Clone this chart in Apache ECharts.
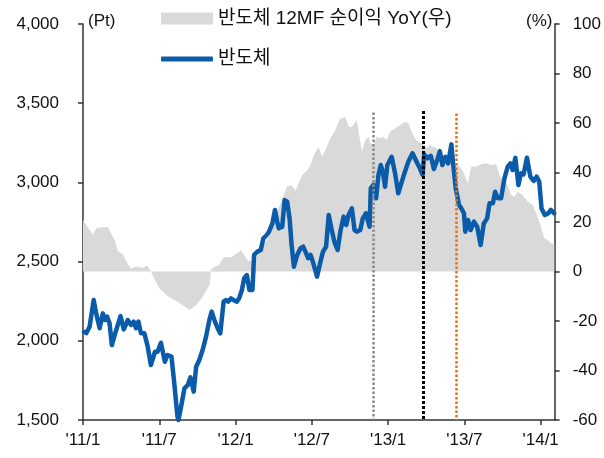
<!DOCTYPE html>
<html><head><meta charset="utf-8">
<script src="https://cdn.jsdelivr.net/npm/echarts@6/dist/echarts.min.js"></script>
<style>html,body{margin:0;padding:0;background:#fff}#c{width:604px;height:458px}</style>
</head><body><div id="c"></div>
<script>
// x positions are months elapsed since 2011/1
const xTickValues = [0, 6, 12, 18, 24, 30, 36];
const xTickLabels = ["'11/1", "'11/7", "'12/1", "'12/7", "'13/1", "'13/7", "'14/1"];

const semiName = '반도체';
const semiT = [0.08,0.26,0.52,0.84,1.04,1.31,1.56,1.74,1.90,2.09,
2.27,2.53,2.95,3.21,3.52,3.78,3.99,4.17,4.36,4.56,
4.83,5.09,5.34,5.66,5.87,6.13,6.44,6.65,6.96,7.18,
7.43,7.51,7.77,7.98,8.24,8.45,8.71,8.90,9.15,9.41,
9.68,9.94,10.12,10.38,10.59,10.80,11.06,11.24,11.42,11.64,
11.84,12.10,12.28,12.50,12.68,12.89,13.09,13.33,13.46,13.72,
13.98,14.19,14.45,14.63,14.90,15.10,15.28,15.41,15.67,15.86,
16.06,16.25,16.41,16.59,16.85,17.11,17.32,17.50,17.71,17.90,
18.08,18.41,18.68,18.88,19.12,19.33,19.54,19.77,20.03,20.24,
20.50,20.71,20.89,21.15,21.36,21.54,21.81,22.01,22.25,22.54,
22.64,22.85,23.06,23.24,23.42,23.58,23.76,23.94,24.28,24.55,
24.80,25.20,25.59,25.92,26.24,26.50,26.71,26.84,27.10,27.36,
27.60,27.86,28.07,28.27,28.51,28.72,28.98,29.11,29.32,29.58,
29.76,29.97,30.07,30.28,30.49,30.75,31.01,31.28,31.53,31.79,
31.98,32.24,32.42,32.63,32.89,33.15,33.41,33.62,33.80,34.01,
34.25,34.45,34.66,34.92,35.19,35.45,35.68,35.89,36.07,36.33,
36.60,36.80,37.07];
const semiIndex = [2057,2049,2089,2257,2173,2079,2173,2131,2152,2110,
1973,2047,2156,2072,2131,2100,2121,2079,2121,2047,
2047,1963,1847,1931,1931,1988,1868,1910,1900,1732,
1521,1500,1607,1700,1721,1769,1679,1836,1879,1942,
2026,2131,2184,2121,2079,2047,2247,2257,2247,2268,
2257,2247,2268,2321,2395,2415,2321,2321,2542,2563,
2573,2647,2668,2689,2741,2826,2752,2710,2720,2889,
2878,2773,2605,2468,2542,2584,2594,2563,2521,2542,
2499,2405,2499,2563,2594,2794,2710,2626,2573,2689,
2784,2731,2794,2836,2699,2689,2699,2773,2805,2720,
2963,2984,2900,3047,3110,3068,2973,3110,3162,3057,
2931,3036,3131,3184,3131,3089,3047,3177,3152,3168,
3085,3141,3198,3110,3162,3120,3240,3120,2963,2857,
2836,2805,2689,2763,2699,2752,2720,2605,2741,2773,
2868,2868,2941,2900,2900,3026,3099,3120,3078,3156,
2984,3057,3051,3156,3036,3009,3036,3005,2836,2794,
2805,2826,2805];

const yoyName = '반도체 12MF 순이익 YoY(우)';
const yoyT = [0.00,0.26,0.52,0.78,1.04,1.43,1.96,2.21,2.48,2.74,
3.13,3.52,3.78,4.17,4.69,5.03,5.34,5.66,6.00,6.65,
7.20,7.72,8.37,8.90,9.41,9.80,9.98,10.07,10.33,10.72,
10.98,11.24,11.64,11.89,12.15,12.42,12.68,12.94,13.20,13.59,
13.85,14.24,14.63,14.89,15.16,15.28,15.67,16.06,16.46,16.72,
16.98,17.24,17.63,17.90,18.15,18.54,18.80,19.07,19.46,19.85,
20.19,20.63,20.89,21.15,21.54,21.81,21.93,22.20,22.46,22.59,
22.85,23.11,23.37,23.63,23.89,24.15,24.55,24.94,25.33,25.59,
25.85,26.11,26.37,26.71,27.02,27.28,27.54,27.80,28.07,28.33,
28.58,28.85,29.11,29.37,29.63,29.89,30.02,30.28,30.54,30.93,
31.32,31.71,32.11,32.50,32.76,33.02,33.41,33.67,33.93,34.19,
34.59,34.98,35.37,35.76,36.02,36.28,36.60,36.80,37.07];
const yoyPct = [20.8,18.8,16.8,15.0,17.5,17.9,18.0,15.4,12.7,8.3,
6.9,3.0,1.1,2.0,1.4,2.4,0,-3.4,-6.8,-10,
-11.5,-13.1,-15.6,-13.5,-10.2,-6.8,-5.0,1.0,1.9,2.6,
5.3,6.0,5.7,6.7,7.5,8.5,6.7,4.6,4.0,5.3,
7.4,11,14,18.1,22.8,24.2,29.2,34.6,34.6,32.5,
36,39,40.8,43,47,50.4,46.4,49.1,53.8,57.2,
61.5,62.5,58.5,58.5,61.2,52.4,48.4,53.1,54.5,51.8,
51.1,54.5,53.8,54.5,53.1,56.5,57.8,59.2,60.5,59.9,
56.5,53.8,52.4,51.8,49.8,51.1,50.4,49.8,47.8,47,
45.1,44.4,45.1,43,42.4,40.5,39,35.6,42.4,42.4,
43.3,43.7,43,43.3,39,37,35,30.9,30.2,32.2,
30.9,28.2,26.9,22.1,18.1,13.5,12.5,11.5,11];

// event marker lines: month position and top value (Pt)
const eventT = [22.85, 26.8, 29.33];
const eventTop = [3441, 3451, 3435];
const eventColors = ['#8a8a8a', '#000000', '#E8720C'];

const FONT = "'Liberation Sans', Arial, 'Noto Sans CJK KR', sans-serif";
const TXT = '#111';

const chart = echarts.init(document.getElementById('c'), null, {renderer: 'canvas'});
const axisLineStyle = {color: '#333', width: 1.5};

chart.setOption({
  animation: false,
  grid: {left: 83, right: 47, top: 24, bottom: 38, containLabel: false},
  legend: [
    {left: 161, top: 8, padding: 0, itemWidth: 52, itemHeight: 12, icon: 'rect',
     data: [yoyName], textStyle: {fontSize: 19, color: TXT, fontFamily: FONT, lineHeight: 21}},
    {left: 161, top: 48.5, padding: 0, itemWidth: 52, itemHeight: 5, icon: 'roundRect',
     data: [semiName], textStyle: {fontSize: 19, color: TXT, fontFamily: FONT, lineHeight: 21}}
  ],
  graphic: [
    {type: 'text', left: 88, top: 13, style: {text: '(Pt)', font: '17px ' + FONT, fill: TXT}},
    {type: 'text', left: 526, top: 13, style: {text: '(%)', font: '17px ' + FONT, fill: TXT}}
  ],
  xAxis: {
    type: 'value', min: 0, max: 37.1,
    axisLine: {show: true, onZero: false, lineStyle: axisLineStyle},
    axisTick: {show: true, length: 5, lineStyle: axisLineStyle, customValues: xTickValues},
    axisLabel: {fontSize: 17, color: TXT, fontFamily: FONT, margin: 12, customValues: xTickValues,
      formatter: v => xTickLabels[xTickValues.indexOf(Math.round(v))] || ''},
    splitLine: {show: false}
  },
  yAxis: [
    {type: 'value', min: 1500, max: 4000, interval: 500, position: 'left',
     axisLine: {show: true, lineStyle: axisLineStyle},
     axisTick: {show: true, length: 5, lineStyle: axisLineStyle},
     axisLabel: {fontSize: 17, color: TXT, fontFamily: FONT, margin: 24,
       formatter: v => v.toLocaleString('en-US')},
     splitLine: {show: false}},
    {type: 'value', min: -60, max: 100, interval: 20, position: 'right',
     axisLine: {show: true, lineStyle: axisLineStyle},
     axisTick: {show: true, length: 5, lineStyle: axisLineStyle},
     axisLabel: {fontSize: 17, color: TXT, fontFamily: FONT, margin: 18},
     splitLine: {show: false}}
  ],
  series: [
    {name: yoyName, type: 'line', xAxisIndex: 0, yAxisIndex: 1, z: 1,
     data: yoyT.map((t, i) => [t, yoyPct[i]]),
     showSymbol: false, symbol: 'none',
     itemStyle: {color: '#D9D9D9'},
     lineStyle: {width: 0, opacity: 0},
     areaStyle: {color: '#D9D9D9', opacity: 1}},
    {name: semiName, type: 'line', xAxisIndex: 0, yAxisIndex: 0, z: 3,
     data: semiT.map((t, i) => [t, semiIndex[i]]),
     showSymbol: false, symbol: 'none',
     itemStyle: {color: '#0A5BAA'},
     lineStyle: {color: '#0A5BAA', width: 4.5, join: 'round', cap: 'round'},
     markLine: {
       silent: true, symbol: ['none', 'none'], label: {show: false}, z: 5,
       data: eventT.map((t, i) => [
         {coord: [t, eventTop[i]], lineStyle: {color: eventColors[i], width: i === 1 ? 3 : 2.5, type: i === 1 ? [3, 2] : [2.5, 2]}},
         {coord: [t, 1500]}
       ])
     }}
  ]
});
</script></body></html>
